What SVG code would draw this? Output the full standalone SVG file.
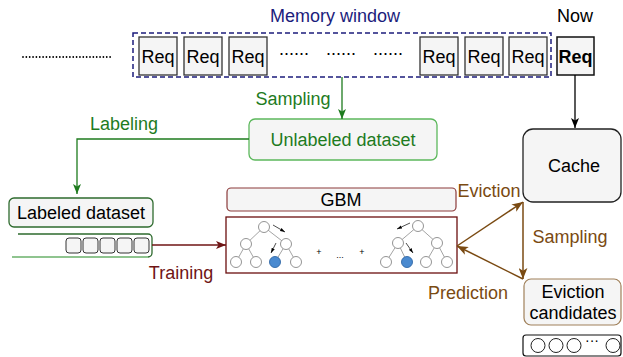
<svg xmlns="http://www.w3.org/2000/svg" width="623" height="357" viewBox="0 0 623 357">
<style>
text{font-family:"Liberation Sans",Arial,sans-serif;font-size:18px;text-anchor:middle}
.req{fill:#f5f5f5;stroke:#333;stroke-width:1.3}
.nav{fill:#1c1c7c}
.grn{fill:#1e7b1e}
.red{fill:#6f1414}
.brn{fill:#7a4a12}
.tn{fill:#fff;stroke:#888;stroke-width:0.9}
.tb{fill:#4a8ad0;stroke:#2f67a6;stroke-width:0.9}
.te{stroke:#999;stroke-width:0.9;fill:none}
.sm{font-size:9px}
</style>
<defs>
<marker id="aBlk" markerUnits="userSpaceOnUse" viewBox="0 0 10 8" refX="10" refY="4" markerWidth="10" markerHeight="8" orient="auto"><path d="M0,0 L10,4 L0,8 L2.5,4 Z" fill="#000"/></marker>
<marker id="aGrn" markerUnits="userSpaceOnUse" viewBox="0 0 10 8" refX="10" refY="4" markerWidth="10" markerHeight="8" orient="auto"><path d="M0,0 L10,4 L0,8 L2.5,4 Z" fill="#1e7b1e"/></marker>
<marker id="aRed" markerUnits="userSpaceOnUse" viewBox="0 0 10 8" refX="10" refY="4" markerWidth="10" markerHeight="8" orient="auto"><path d="M0,0 L10,4 L0,8 L2.5,4 Z" fill="#6f1414"/></marker>
<marker id="aBrn" markerUnits="userSpaceOnUse" viewBox="0 0 10 8" refX="10" refY="4" markerWidth="11" markerHeight="9" orient="auto"><path d="M0,0 L10,4 L0,8 L2.5,4 Z" fill="#7a4a12"/></marker>
<marker id="aSm" markerUnits="userSpaceOnUse" viewBox="0 0 6 4" refX="6" refY="2" markerWidth="5" markerHeight="4" orient="auto"><path d="M0,0 L6,2 L0,4 Z" fill="#000"/></marker>
</defs>

<rect width="623" height="357" fill="#fff"/>

<g id="history">
<line x1="23" y1="57" x2="112" y2="57" stroke="#000" stroke-width="1.8" stroke-linecap="round" stroke-dasharray="0 3.35"/>
</g>

<g id="memory-window">
<rect x="133" y="33" width="418" height="44" fill="none" stroke="#1c1c7c" stroke-width="1.5" stroke-dasharray="5 3"/>
<text x="335" y="22" class="nav">Memory window</text>
<rect class="req" x="139" y="37" width="38" height="38"/><text x="158" y="63">Req</text>
<rect class="req" x="184" y="37" width="38" height="38"/><text x="203" y="63">Req</text>
<rect class="req" x="229" y="37" width="38" height="38"/><text x="248" y="63">Req</text>
<text x="294" y="55">......</text>
<text x="341" y="55">......</text>
<text x="388" y="55">......</text>
<rect class="req" x="420" y="37" width="38" height="38"/><text x="439" y="63">Req</text>
<rect class="req" x="465" y="37" width="38" height="38"/><text x="484" y="63">Req</text>
<rect class="req" x="509" y="37" width="38" height="38"/><text x="528" y="63">Req</text>
</g>

<g id="now">
<text x="575" y="22">Now</text>
<rect x="557" y="37" width="37" height="38" fill="#f5f5f5" stroke="#111" stroke-width="1.5"/>
<text x="575.5" y="63" font-weight="bold">Req</text>
</g>

<g id="unlabeled-dataset">
<rect x="249" y="119" width="188" height="41" rx="6" fill="#f5f5f5" stroke="#5cb85c" stroke-width="1.3"/>
<text x="343" y="146" class="grn">Unlabeled dataset</text>
</g>

<g id="cache">
<rect x="523" y="129" width="98" height="73" rx="10" fill="#f5f5f5" stroke="#222" stroke-width="1.3"/>
<text x="574" y="172">Cache</text>
</g>

<g id="labeled-dataset">
<rect x="9" y="198" width="144" height="29" rx="5" fill="#f5f5f5" stroke="#2e6b2e" stroke-width="1.3"/>
<text x="81" y="219">Labeled dataset</text>
<path d="M18,234 H148 A4,4 0 0 1 152,238 V253 A4,4 0 0 1 148,257" fill="none" stroke="#2e6b2e" stroke-width="1.3"/>
<line x1="12" y1="257" x2="148" y2="257" stroke="#6ab06a" stroke-width="1.5"/>
<rect x="66" y="238" width="15" height="15" rx="3" fill="#f5f5f5" stroke="#333"/>
<rect x="83" y="238" width="15" height="15" rx="3" fill="#f5f5f5" stroke="#333"/>
<rect x="100" y="238" width="15" height="15" rx="3" fill="#f5f5f5" stroke="#333"/>
<rect x="117" y="238" width="15" height="15" rx="3" fill="#f5f5f5" stroke="#333"/>
<rect x="134" y="238" width="15" height="15" rx="3" fill="#f5f5f5" stroke="#333"/>
</g>

<g id="gbm">
<rect x="227" y="188" width="229" height="23" rx="4" fill="#f5f5f5" stroke="#8b3a3a" stroke-width="1.2"/>
<text x="341" y="206">GBM</text>
</g>

<g id="trees">
<rect x="226" y="217" width="231" height="56" fill="#fff" stroke="#6b0f0f" stroke-width="1.3"/>
<path class="te" d="M264,227 L246,244 L236,262 M246,244 L256,262 M264,227 L286,244 L275,262 M286,244 L296,262"/>
<circle class="tn" cx="264" cy="227" r="5.5"/>
<circle class="tn" cx="246" cy="244" r="5.5"/>
<circle class="tn" cx="286" cy="244" r="5.5"/>
<circle class="tn" cx="236" cy="262" r="5.5"/>
<circle class="tn" cx="256" cy="262" r="5.5"/>
<circle class="tb" cx="275" cy="262" r="5.5"/>
<circle class="tn" cx="296" cy="262" r="5.5"/>
<line x1="273" y1="225" x2="285" y2="232" stroke="#000" stroke-width="0.7" marker-end="url(#aSm)"/>
<line x1="276" y1="243" x2="271" y2="253" stroke="#000" stroke-width="0.7" marker-end="url(#aSm)"/>
<text x="319" y="255" class="sm">+</text>
<text x="340" y="258" class="sm">...</text>
<text x="362" y="255" class="sm">+</text>
<path class="te" d="M418,226 L398,243 L386,262 M398,243 L407,262 M418,226 L437,243 L426,262 M437,243 L447,262"/>
<circle class="tn" cx="418" cy="226" r="5.5"/>
<circle class="tn" cx="398" cy="243" r="5.5"/>
<circle class="tn" cx="437" cy="243" r="5.5"/>
<circle class="tn" cx="386" cy="262" r="5.5"/>
<circle class="tb" cx="407" cy="262" r="5.5"/>
<circle class="tn" cx="426" cy="262" r="5.5"/>
<circle class="tn" cx="447" cy="262" r="5.5"/>
<line x1="410" y1="223" x2="397" y2="229" stroke="#000" stroke-width="0.7" marker-end="url(#aSm)"/>
<line x1="406" y1="243" x2="413" y2="253" stroke="#000" stroke-width="0.7" marker-end="url(#aSm)"/>
</g>

<g id="eviction-candidates">
<rect x="524" y="279" width="97" height="46" rx="7" fill="#f5f5f5" stroke="#a0805a" stroke-width="1.2"/>
<text x="573" y="298">Eviction</text>
<text x="573" y="319">candidates</text>
<rect x="523" y="335" width="98" height="21" rx="3" fill="#fff" stroke="#111" stroke-width="1.2"/>
<circle cx="538" cy="345.5" r="7" fill="#fff" stroke="#222"/>
<circle cx="556" cy="345.5" r="7" fill="#fff" stroke="#222"/>
<circle cx="574" cy="345.5" r="7" fill="#fff" stroke="#222"/>
<text x="592" y="345" style="font-size:14px">···</text>
<circle cx="613" cy="345.5" r="7" fill="#fff" stroke="#222"/>
</g>

<g id="connectors" fill="none">
<line x1="342" y1="77" x2="342" y2="119" stroke="#1e7b1e" stroke-width="1.3" marker-end="url(#aGrn)"/>
<line x1="575" y1="75" x2="575" y2="128" stroke="#000" stroke-width="1.3" marker-end="url(#aBlk)"/>
<path d="M249,139 H77 V194" stroke="#1e7b1e" stroke-width="1.3" marker-end="url(#aGrn)"/>
<line x1="152" y1="245" x2="226" y2="245" stroke="#6f1414" stroke-width="1.5" marker-end="url(#aRed)"/>
<line x1="457" y1="246" x2="523" y2="202" stroke="#7a4a12" stroke-width="1.5" marker-end="url(#aBrn)"/>
<line x1="523" y1="202" x2="523" y2="279" stroke="#7a4a12" stroke-width="1.5" marker-end="url(#aBrn)"/>
<line x1="523" y1="279" x2="457" y2="246" stroke="#7a4a12" stroke-width="1.5" marker-end="url(#aBrn)"/>
</g>

<g id="labels">
<text x="293" y="105" class="grn">Sampling</text>
<text x="124" y="130" class="grn">Labeling</text>
<text x="181" y="279" class="red">Training</text>
<text x="489" y="197" class="brn">Eviction</text>
<text x="570" y="243" class="brn">Sampling</text>
<text x="468" y="299" class="brn">Prediction</text>
</g>
</svg>
